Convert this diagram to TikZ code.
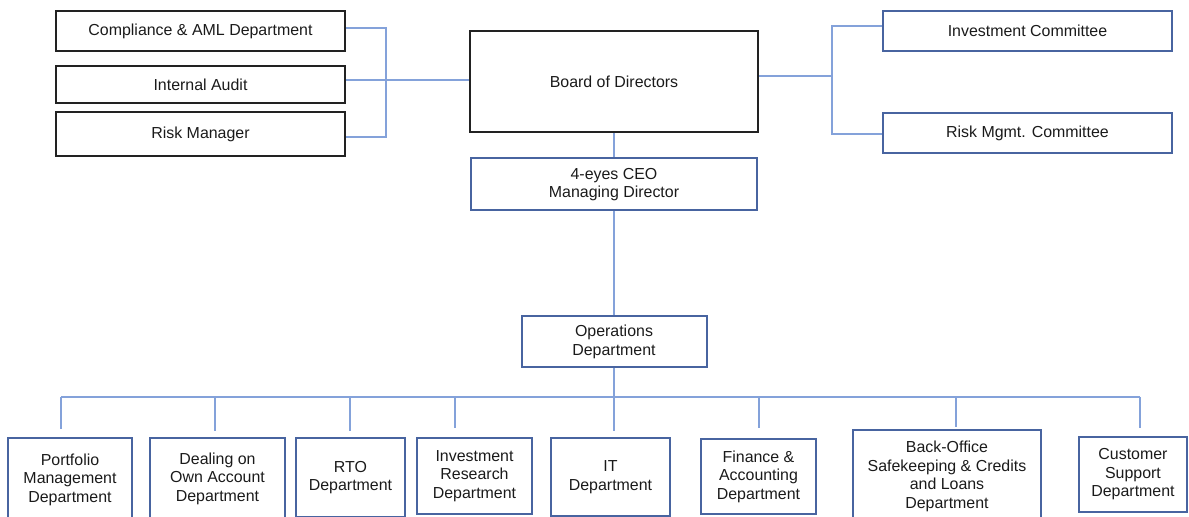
\documentclass[tikz,border=0pt]{standalone}
\usepackage{fontspec}
\setmainfont{Liberation Sans}
\definecolor{boxblue}{RGB}{72,100,160}
\definecolor{lineblue}{RGB}{132,162,218}
\definecolor{boxblack}{RGB}{34,34,34}
\definecolor{txt}{RGB}{26,26,26}
\begin{document}
\begin{tikzpicture}[x=1bp,y=-1bp,
  sz/.style n args={2}{minimum width=#1bp, minimum height=#2bp},
  base/.style={inner sep=0pt, align=center, text=txt, line width=2bp,
    font=\fontsize{16}{18.5}\selectfont},
  blackbox/.style={base, draw=boxblack},
  bluebox/.style={base, draw=boxblue},
  conn/.style={draw=lineblue, line width=1.6bp}]
\useasboundingbox (0,0) rectangle (1189,517);

% top-left boxes
\node[blackbox, sz={289}{40}] (comp) at (200.5,31) {Compliance \& AML Department};
\node[blackbox, sz={289}{37}] (audit) at (200.5,85) {Internal Audit};
\node[blackbox, sz={289}{44}] (riskm) at (200.5,134.5) {Risk Manager};

% board and CEO
\node[blackbox, sz={288}{101}] (board) at (614,81.5) {Board of Directors};
\node[bluebox, sz={286}{52}] (ceo) at (614,184.5) {4-eyes CEO\\Managing Director};

% committees
\node[bluebox, sz={289}{40}] (invc) at (1027.5,31) {Investment Committee};
\node[bluebox, sz={289}{40}] (riskc) at (1027.5,133) {Risk Mgmt. Committee};

% operations
\node[bluebox, sz={185}{51}] (ops) at (614,342) {Operations\\Department};

% bottom departments
\node[bluebox, sz={124}{82}] (pm) at (70,479.5) {Portfolio\\Management\\Department};
\node[bluebox, sz={135}{80}] (doa) at (217.5,478.5) {Dealing on\\Own Account\\Department};
\node[bluebox, sz={109}{78}] (rto) at (350.5,477.5) {RTO\\Department};
\node[bluebox, sz={115}{75}] (ir) at (474.5,476) {Investment\\Research\\Department};
\node[bluebox, sz={119}{77}] (it) at (610.5,477) {IT\\Department};
\node[bluebox, sz={115}{74}] (fin) at (758.5,476.5) {Finance \&\\Accounting\\Department};
\node[bluebox, sz={188}{92}] (bo) at (947,476.5) {Back-Office\\Safekeeping \& Credits\\and Loans\\Department};
\node[bluebox, sz={108}{74}] (cs) at (1133,474.5) {Customer\\Support\\Department};

% left bracket
\coordinate (lj) at (386,0);
\draw[conn] ([yshift=3bp]comp.east) -- ([yshift=3bp]comp.east -| lj)
  -- ([yshift=-2.5bp]riskm.east -| lj) -- ([yshift=-2.5bp]riskm.east);
\draw[conn] ([yshift=1.5bp]audit.east |- board.west) -- ([yshift=1.5bp]board.west);

% right bracket
\coordinate (rj) at (832,0);
\draw[conn] ([yshift=5.5bp]board.east) -- ([yshift=5.5bp]board.east -| rj);
\draw[conn] ([yshift=5bp]invc.west) -- ([yshift=5bp]invc.west -| rj)
  -- ([yshift=-1bp]riskc.west -| rj) -- ([yshift=-1bp]riskc.west);

% vertical chain
\draw[conn] (board.south) -- (ceo.north);
\draw[conn] (ceo.south) -- (ops.north);

% bus
\coordinate (busL) at (61,397);
\coordinate (busR) at (1140,397);
\draw[conn] (busL) -- (busR);

\coordinate (tpm) at (61,429);
\coordinate (tdoa) at (215,431);
\coordinate (trto) at (350,431);
\coordinate (tir) at (455,428);
\coordinate (tit) at (614,431);
\coordinate (tfin) at (759,428);
\coordinate (tbo) at (956,427);
\coordinate (tcs) at (1140,428);

\draw[conn] (ops.south) -- (tit);
\foreach \t in {tpm,tdoa,trto,tir,tfin,tbo,tcs}
  \draw[conn] (\t |- busL) -- (\t);
\end{tikzpicture}
\end{document}
